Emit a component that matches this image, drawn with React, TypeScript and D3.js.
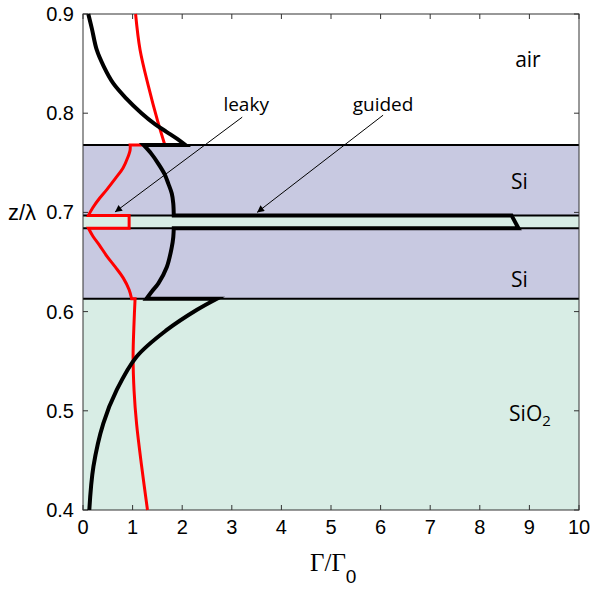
import React from "react";
import * as d3 from "d3";

// ---- data ----
const xTicks = [0, 1, 2, 3, 4, 5, 6, 7, 8, 9, 10];
const yTicks = [0.4, 0.5, 0.6, 0.7, 0.8, 0.9];

// layer interfaces (z/λ)
const siO2Top = 0.613;
const slotBottom = 0.684;
const slotTop = 0.697;
const siTop = 0.768;

// guided mode (black), segments per layer: [Γ/Γ0, z/λ]
const guidedAir: [number, number][] = [
  [0.107, 0.9], [0.18, 0.885], [0.276, 0.864], [0.42, 0.847], [0.611, 0.83],
  [0.87, 0.815], [1.18, 0.8], [1.45, 0.789], [1.69, 0.781], [1.9, 0.774], [2.06, 0.768],
];
const guidedSiUpper: [number, number][] = [
  [1.22, 0.768], [1.38, 0.759], [1.52, 0.749], [1.64, 0.739], [1.72, 0.729],
  [1.79, 0.719], [1.82, 0.709], [1.83, 0.697],
];
const guidedSlot: [number, number][] = [[8.64, 0.697], [8.78, 0.684]];
const guidedSiLower: [number, number][] = [
  [1.83, 0.684], [1.82, 0.675], [1.79, 0.665], [1.69, 0.645], [1.52, 0.6285],
  [1.4, 0.621], [1.28, 0.613],
];
const guidedSiO2: [number, number][] = [
  [2.7, 0.613], [2.29, 0.6016], [1.69, 0.5815], [1.08, 0.5545], [0.68, 0.521],
  [0.41, 0.4874], [0.21, 0.4437], [0.127, 0.4],
];

// leaky mode (red)
const leakyAir: [number, number][] = [
  [1.06, 0.9], [1.15, 0.864], [1.32, 0.827], [1.5, 0.793], [1.65, 0.768],
];
const leakySiUpper: [number, number][] = [
  [0.95, 0.768], [0.95, 0.763], [0.9, 0.755], [0.81, 0.745], [0.65, 0.734],
  [0.48, 0.723], [0.33, 0.714], [0.2, 0.705], [0.11, 0.697],
];
const leakySlot: [number, number][] = [[0.93, 0.697], [0.93, 0.684]];
const leakySiLower: [number, number][] = [
  [0.11, 0.684], [0.2, 0.676], [0.33, 0.667], [0.48, 0.656], [0.65, 0.645],
  [0.81, 0.634], [0.93, 0.622], [0.98, 0.613],
];
const leakySiO2: [number, number][] = [
  [1.05, 0.613], [1.03, 0.59], [1.01, 0.555], [1.03, 0.52], [1.08, 0.487],
  [1.18, 0.445], [1.3, 0.4],
];

// annotations
const leakyArrow = { text: "leaky", tx: 3.29, tz: 0.802, x1: 3.21, z1: 0.796, x2: 0.645, z2: 0.7004 };
const guidedArrow = { text: "guided", tx: 6.05, tz: 0.802, x1: 6.05, z1: 0.798, x2: 3.51, z2: 0.7 };

export default function App() {
  const W = 591, H = 590;
  const x = d3.scaleLinear().domain([0, 10]).range([83, 579]);
  const y = d3.scaleLinear().domain([0.4, 0.9]).range([510, 14]);
  const [x0, x1] = x.range();
  const [yb, yt] = y.range();

  const lineSmooth = d3
    .line<[number, number]>()
    .x((d) => x(d[0]))
    .y((d) => y(d[1]))
    .curve(d3.curveCatmullRom.alpha(0.5));
  const lineStraight = d3
    .line<[number, number]>()
    .x((d) => x(d[0]))
    .y((d) => y(d[1]));

  const build = (segs: [number, number][][]) =>
    segs
      .map((s, i) => {
        const p = (s.length > 2 ? lineSmooth(s) : lineStraight(s)) || "";
        return i === 0 ? p : "L" + p.slice(1);
      })
      .join("");

  const guidedPath = build([guidedAir, guidedSiUpper, guidedSlot, guidedSiLower, guidedSiO2]);
  const leakyPath = build([leakyAir, leakySiUpper, leakySlot, leakySiLower, leakySiO2]);

  const siColor = "#c8c9e1";
  const oxColor = "#d8ede5";
  const annFont = "'Open Sans', 'DejaVu Sans', sans-serif";
  const tickFont = "'Liberation Sans', Arial, sans-serif";

  const arrows = [leakyArrow, guidedArrow];

  return (
    <svg width={W} height={H} style={{ position: "absolute", left: 0, top: 0 }}>
      <defs>
        <marker id="ah" viewBox="0 0 10 10" refX="10" refY="5" markerWidth="9" markerHeight="7"
          markerUnits="userSpaceOnUse" orient="auto">
          <path d="M0,0 L10,5 L0,10 z" fill="#000" />
        </marker>
      </defs>
      <rect x={0} y={0} width={W} height={H} fill="#fff" />
      {/* layers */}
      <rect x={x0} y={y(siO2Top)} width={x1 - x0} height={yb - y(siO2Top)} fill={oxColor} />
      <rect x={x0} y={y(slotBottom)} width={x1 - x0} height={y(siO2Top) - y(slotBottom)} fill={siColor} />
      <rect x={x0} y={y(slotTop)} width={x1 - x0} height={y(slotBottom) - y(slotTop)} fill={oxColor} />
      <rect x={x0} y={y(siTop)} width={x1 - x0} height={y(slotTop) - y(siTop)} fill={siColor} />
      {[siO2Top, slotBottom, slotTop, siTop].map((z) => (
        <line key={z} x1={x0} x2={x1} y1={y(z)} y2={y(z)} stroke="#000" strokeWidth={2} />
      ))}
      {/* frame */}
      <rect x={x0} y={yt} width={x1 - x0} height={yb - yt} fill="none" stroke="#333" strokeWidth={1} />
      {xTicks.map((t) => (
        <g key={"x" + t}>
          <line x1={x(t)} x2={x(t)} y1={yb} y2={yb - 5} stroke="#333" />
          <line x1={x(t)} x2={x(t)} y1={yt} y2={yt + 5} stroke="#333" />
          <text x={x(t)} y={yb + 24} textAnchor="middle" fontFamily={tickFont} fontSize={20} fill="#000">
            {t}
          </text>
        </g>
      ))}
      {yTicks.map((t) => (
        <g key={"y" + t}>
          <line x1={x0} x2={x0 + 5} y1={y(t)} y2={y(t)} stroke="#333" />
          <line x1={x1} x2={x1 - 5} y1={y(t)} y2={y(t)} stroke="#333" />
          <text x={74} y={y(t) + 7} textAnchor="end" fontFamily={tickFont} fontSize={20} fill="#000">
            {t.toFixed(1)}
          </text>
        </g>
      ))}
      {/* curves */}
      <path d={leakyPath} fill="none" stroke="#ff0000" strokeWidth={3} strokeLinejoin="miter" />
      <path d={guidedPath} fill="none" stroke="#000" strokeWidth={4} strokeLinejoin="miter" strokeMiterlimit={6} />
      {/* annotations */}
      {arrows.map((a) => (
        <g key={a.text}>
          <text x={x(a.tx)} y={y(a.tz)} textAnchor="middle" fontFamily={annFont} fontSize={19} fill="#000">
            {a.text}
          </text>
          <line x1={x(a.x1)} y1={y(a.z1)} x2={x(a.x2)} y2={y(a.z2)} stroke="#000" strokeWidth={1} markerEnd="url(#ah)" />
        </g>
      ))}
      <text x={x(8.97)} y={y(0.8466)} textAnchor="middle" fontFamily={annFont} fontSize={21} fill="#000">air</text>
      <text x={x(8.8)} y={y(0.7235)} textAnchor="middle" fontFamily={annFont} fontSize={21} fill="#000">Si</text>
      <text x={x(8.8)} y={y(0.6247)} textAnchor="middle" fontFamily={annFont} fontSize={21} fill="#000">Si</text>
      <text x={x(8.59)} y={y(0.4897)} fontFamily={annFont} fontSize={21} fill="#000">
        SiO<tspan fontSize={15} dy={5}>2</tspan>
      </text>
      {/* axis labels */}
      <text x={8} y={220} fontFamily={tickFont} fontSize={22} fill="#000">z/λ</text>
      <text x={310} y={571} fontFamily="'Liberation Serif', 'Times New Roman', serif" fontSize={25} fill="#000">
        Γ/Γ<tspan fontFamily={tickFont} fontSize={19} dy={12}>0</tspan>
      </text>
    </svg>
  );
}
